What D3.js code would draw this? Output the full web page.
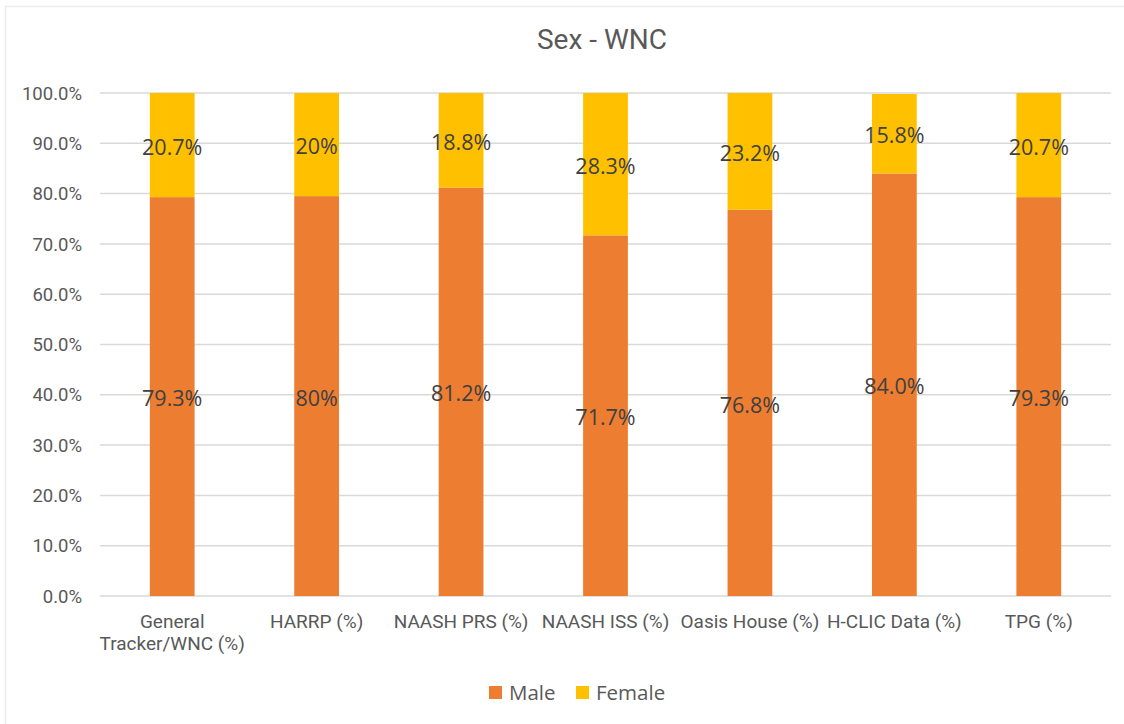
<!DOCTYPE html>
<html>
<head>
<meta charset="utf-8">
<script src="https://cdn.jsdelivr.net/npm/d3@7"></script>
<style>
  body { margin: 0; background: #fff; }
</style>
</head>
<body>
<div id="chart"></div>
<script>
// data
var categories = ["General Tracker/WNC (%)", "HARRP (%)", "NAASH PRS (%)", "NAASH ISS (%)",
                  "Oasis House (%)", "H-CLIC Data (%)", "TPG (%)"];
var maleValues = [79.3, 79.5, 81.2, 71.7, 76.8, 84.0, 79.3];
var femaleValues = [20.7, 20.5, 18.8, 28.3, 23.2, 15.8, 20.7];
var maleLabels = ["79.3%", "80%", "81.2%", "71.7%", "76.8%", "84.0%", "79.3%"];
var femaleLabels = ["20.7%", "20%", "18.8%", "28.3%", "23.2%", "15.8%", "20.7%"];
var yTicks = [0, 10, 20, 30, 40, 50, 60, 70, 80, 90, 100];
var seriesNames = ["Male", "Female"];

var width = 1124, height = 724;
var margin = {top: 93, right: 13, bottom: 128, left: 100};
var colors = {Male: "#ed7d31", Female: "#ffc000"};

var svg = d3.select("#chart").append("svg")
    .attr("width", width)
    .attr("height", height);

// outer chart border
svg.append("rect")
    .attr("x", 5.5).attr("y", 6.5)
    .attr("width", 1130).attr("height", 730)
    .attr("fill", "none")
    .attr("stroke", "#ececec")
    .attr("stroke-width", 1.5);

var x = d3.scaleBand()
    .domain(categories)
    .range([margin.left, width - margin.right])
    .paddingInner(0.69)
    .paddingOuter(0.345);

var y = d3.scaleLinear()
    .domain([0, 100])
    .range([height - margin.bottom, margin.top]);

// gridlines
svg.append("g").selectAll("line")
    .data(yTicks)
    .enter().append("line")
    .attr("x1", margin.left).attr("x2", width - margin.right)
    .attr("y1", function (d) { return y(d); })
    .attr("y2", function (d) { return y(d); })
    .attr("stroke", "#d9d9d9")
    .attr("stroke-width", 1.5);

// y tick labels
svg.append("g").selectAll("text")
    .data(yTicks)
    .enter().append("text")
    .attr("x", 82)
    .attr("y", function (d) { return y(d); })
    .attr("dy", "0.36em")
    .attr("text-anchor", "end")
    .attr("font-family", "Roboto, sans-serif")
    .attr("font-size", 18.5)
    .attr("fill", "#595959")
    .text(function (d) { return d.toFixed(1) + "%"; });

// stacked data
var rows = categories.map(function (c, i) {
    return {cat: c, Male: maleValues[i], Female: femaleValues[i], i: i};
});
var stacked = d3.stack().keys(seriesNames)(rows);

var barGroups = svg.append("g").selectAll("g")
    .data(stacked)
    .enter().append("g")
    .attr("fill", function (d) { return colors[d.key]; });

barGroups.selectAll("rect")
    .data(function (d) { return d; })
    .enter().append("rect")
    .attr("x", function (d) { return x(d.data.cat); })
    .attr("width", x.bandwidth())
    .attr("y", function (d) { return y(d[1]); })
    .attr("height", function (d) { return y(d[0]) - y(d[1]); });

// data labels in the middle of each segment
var labelSets = {Male: maleLabels, Female: femaleLabels};
barGroups.each(function (s) {
    d3.select(svg.node()).append("g").selectAll("text")
        .data(s)
        .enter().append("text")
        .attr("x", function (d) { return x(d.data.cat) + x.bandwidth() / 2; })
        .attr("y", function (d) { return y((d[0] + d[1]) / 2); })
        .attr("dy", "0.45em")
        .attr("text-anchor", "middle")
        .attr("font-family", "'Open Sans', sans-serif")
        .attr("font-size", 21.5)
        .attr("fill", "#404040")
        .text(function (d) { return labelSets[s.key][d.data.i]; });
});

// x category labels (wrap the long general label)
var xLabels = svg.append("g").selectAll("text")
    .data(categories)
    .enter().append("text")
    .attr("x", function (d) { return x(d) + x.bandwidth() / 2; })
    .attr("y", 628)
    .attr("text-anchor", "middle")
    .attr("font-family", "Roboto, sans-serif")
    .attr("font-size", 19)
    .attr("fill", "#595959");

xLabels.each(function (d) {
    var t = d3.select(this);
    var lines = d === "General Tracker/WNC (%)" ? ["General", "Tracker/WNC (%)"] : [d];
    lines.forEach(function (ln, k) {
        t.append("tspan")
            .attr("x", x(d) + x.bandwidth() / 2)
            .attr("dy", k === 0 ? 0 : 22)
            .text(ln);
    });
});

// title
svg.append("text")
    .attr("x", 602).attr("y", 49)
    .attr("text-anchor", "middle")
    .attr("font-family", "Roboto, sans-serif")
    .attr("font-size", 28)
    .attr("fill", "#595959")
    .text("Sex - WNC");

// legend
var legendX = [489, 576];
var legend = svg.append("g").selectAll("g")
    .data(seriesNames)
    .enter().append("g")
    .attr("transform", function (d, i) { return "translate(" + legendX[i] + ",686)"; });

legend.append("rect")
    .attr("width", 13).attr("height", 13)
    .attr("fill", function (d) { return colors[d]; });

legend.append("text")
    .attr("x", 20).attr("y", 7)
    .attr("dy", "0.36em")
    .attr("font-family", "'Open Sans', sans-serif")
    .attr("font-size", 20.5)
    .attr("fill", "#595959")
    .text(function (d) { return d; });
</script>
</body>
</html>
